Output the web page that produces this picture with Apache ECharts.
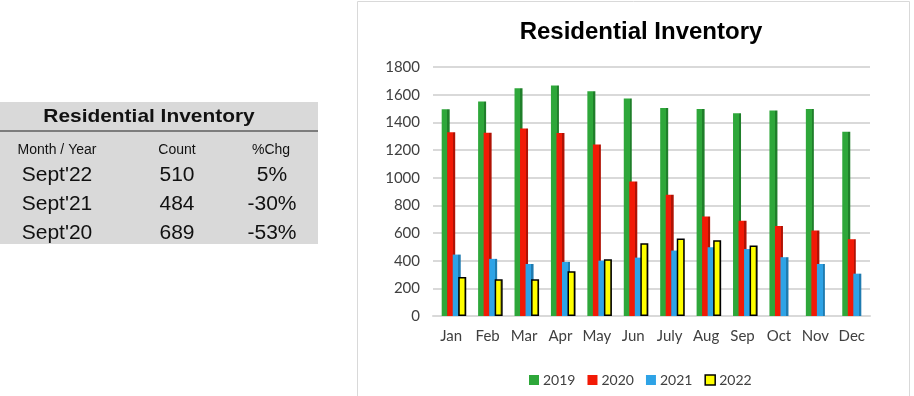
<!DOCTYPE html>
<html>
<head>
<meta charset="utf-8">
<script src="https://cdn.jsdelivr.net/npm/echarts@6/dist/echarts.min.js"></script>
<style>
html, body { margin: 0; padding: 0; background: #fff; }
#main { width: 914px; height: 396px; }
</style>
</head>
<body>
<div id="main"></div>
<script>
var months = ['Jan', 'Feb', 'Mar', 'Apr', 'May', 'Jun', 'July', 'Aug', 'Sep', 'Oct', 'Nov', 'Dec'];
var inv2019 = [1494, 1551, 1646, 1667, 1624, 1573, 1503, 1496, 1465, 1486, 1496, 1332];
var inv2020 = [1329, 1325, 1356, 1322, 1240, 972, 876, 719, 689, 651, 618, 555];
var inv2021 = [444, 413, 376, 391, 400, 422, 473, 497, 484, 425, 376, 306];
var inv2022 = [282, 265, 265, 323, 410, 526, 560, 548, 510, null, null, null];

var tableMonth = ["Sept'22", "Sept'21", "Sept'20"];
var tableCount = ['510', '484', '689'];
var tableChg = ['5%', '-30%', '-53%'];

var chart = echarts.init(document.getElementById('main'));

function tableText(txt, x, y, font, sx) {
    return {
        type: 'text', x: x, y: y, scaleX: sx || 1,
        style: { text: txt, font: font, fill: '#111', align: 'center', verticalAlign: 'middle' }
    };
}

// left-hand summary table
var tableGraphics = [
    { type: 'rect', shape: { x: 0, y: 102, width: 318, height: 142 }, style: { fill: '#d9d9d9' }, silent: true },
    { type: 'line', shape: { x1: 0, y1: 131, x2: 318, y2: 131 }, style: { stroke: '#222', lineWidth: 1.2 } },
    tableText('Residential Inventory', 149, 117, 'bold 19px Arial', 1.1),
    tableText('Month / Year', 57, 150, '14px Arial', 1),
    tableText('Count', 177, 150, '14px Arial', 1),
    tableText('%Chg', 271, 150, '14px Arial', 1),
    // chart frame
    { type: 'rect', shape: { x: 357.5, y: 1.5, width: 552, height: 400 }, style: { fill: 'none', stroke: '#d9d9d9', lineWidth: 1 }, silent: true }
];
tableMonth.forEach(function (m, i) {
    var y = 175 + i * 29;
    tableGraphics.push(tableText(m, 57, y, '20px Arial', 1.05));
    tableGraphics.push(tableText(tableCount[i], 177, y, '20px Arial', 1.05));
    tableGraphics.push(tableText(tableChg[i], 272, y, '20px Arial', 1.05));
});

// face colour plus a darker right edge, like the Excel 3D columns
function shaded(face, side) {
    return new echarts.graphic.LinearGradient(0, 0, 1, 0, [
        { offset: 0, color: face },
        { offset: 0.72, color: face },
        { offset: 0.72, color: side },
        { offset: 1, color: side }
    ]);
}

function barSeries(name, data, face, side, border) {
    return {
        name: name,
        type: 'bar',
        data: data,
        barWidth: 8,
        barGap: '-31%',
        itemStyle: {
            color: shaded(face, side),
            borderColor: border ? '#000' : face,
            borderWidth: border ? 1.5 : 0
        }
    };
}

var option = {
    animation: false,
    textStyle: { fontFamily: 'Lato, sans-serif' },
    color: ['#2ea73a', '#2ea73a', '#f21a06', '#2ea3e6', '#ffff00'],
    title: {
        text: 'Residential Inventory',
        left: 636,
        textAlign: 'center',
        top: 15,
        textStyle: { fontFamily: 'Arial', fontWeight: 'bold', fontSize: 24, color: '#000' }
    },
    legend: {
        top: 368,
        left: 524,
        orient: 'horizontal',
        itemWidth: 10,
        itemHeight: 10,
        itemGap: 12,
        textStyle: { fontSize: 14, color: '#404040', padding: [0, 0, 0, -1] },
        data: [
            { name: '2019', icon: 'rect', itemStyle: { color: '#2ea73a' } },
            { name: '2020', icon: 'rect', itemStyle: { color: '#f21a06' } },
            { name: '2021', icon: 'rect', itemStyle: { color: '#2ea3e6' } },
            { name: '2022', icon: 'rect', itemStyle: { color: '#ffff00', borderColor: '#000', borderWidth: 1.5 } }
        ]
    },
    grid: { left: 433, right: 44, top: 67, bottom: 80 },
    xAxis: {
        type: 'category',
        data: months,
        axisLine: { lineStyle: { color: '#d9d9d9', width: 2 } },
        axisTick: { show: false },
        axisLabel: { color: '#404040', fontSize: 15, margin: 13, interval: 0 }
    },
    yAxis: {
        type: 'value',
        min: 0,
        max: 1800,
        interval: 200,
        axisLine: { show: false },
        axisTick: { show: false },
        splitLine: { lineStyle: { color: '#d9d9d9', width: 2 } },
        axisLabel: { color: '#404040', fontSize: 15, margin: 13, formatter: function (v) { return String(v); } }
    },
    graphic: tableGraphics,
    series: [
        // empty spacer: pushes the group right like Excel's 3D column side faces
        { name: 'spacer', type: 'bar', data: [], barWidth: 8, barGap: '-31%' },
        barSeries('2019', inv2019, '#2ea73a', '#1f7f2a', false),
        barSeries('2020', inv2020, '#f21a06', '#b01204', false),
        barSeries('2021', inv2021, '#2ea3e6', '#1f7bb0', false),
        barSeries('2022', inv2022, '#ffff00', '#b8b800', true)
    ]
};
chart.setOption(option);
</script>
</body>
</html>
